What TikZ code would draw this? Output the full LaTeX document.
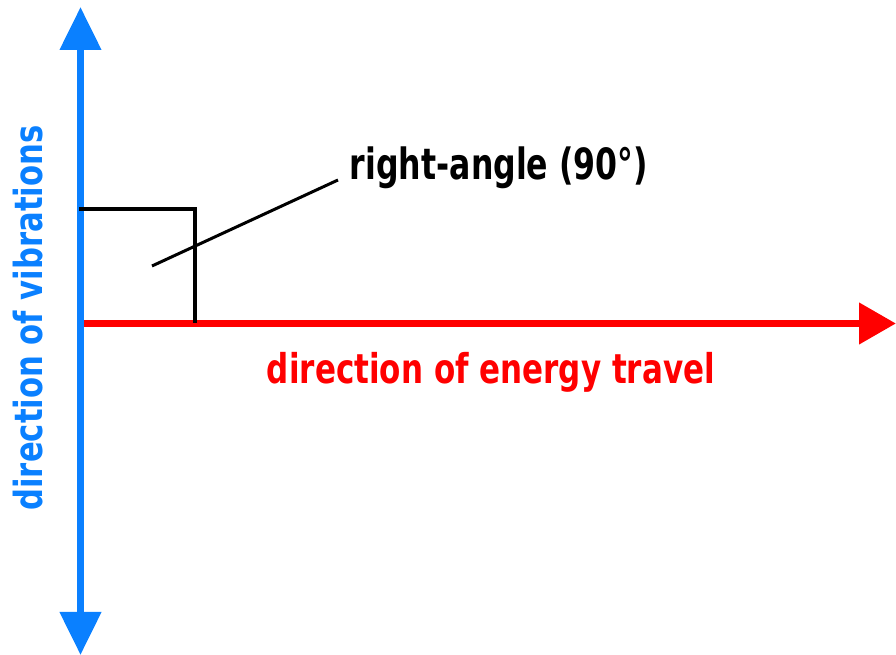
\documentclass[tikz,border=0pt]{standalone}
\usepackage{fontspec}
\setmainfont{DejaVu Sans}
\usetikzlibrary{arrows.meta}
\definecolor{vibblue}{RGB}{10,128,255}
\definecolor{energyred}{RGB}{255,0,0}
\tikzset{
  axisline/.style={line width=7.5pt},
  anglebox/.style={line width=4.5pt, black},
  leader/.style={line width=3pt, black},
  lbl/.style={inner sep=0pt, font=\bfseries},
}
\begin{document}
\begin{tikzpicture}[x=1pt,y=1pt]
\useasboundingbox (0,0) rectangle (896,655);
% coordinates (y measured upward)
\coordinate (vtop) at (80.5,648);
\coordinate (vbot) at (80.5,0);
\coordinate (hstart) at (84,331.5);
\coordinate (hend) at (896,331.5);
\coordinate (sqa) at (79,446);
\coordinate (sqb) at (195,446);
\coordinate (sqc) at (195,332);
\coordinate (lead1) at (152,389);
\coordinate (lead2) at (338,475);
% axes
\draw[axisline, energyred, -{Triangle[length=37pt,width=40pt]}] (hstart) -- (hend);
\draw[axisline, vibblue, {Triangle[length=43pt,width=40pt]}-{Triangle[length=43pt,width=40pt]}] (vbot) -- (vtop);
% right-angle marker
\draw[anglebox] (sqa) -- (sqb) -- (sqc);
\draw[leader] (lead1) -- (lead2);
% labels
\node[lbl, black] (ra) at (499,487) {\resizebox*{298pt}{42pt}{right-angle (90°)}};
\node[lbl, energyred] (en) at (491,283) {\resizebox*{448pt}{40pt}{direction of energy travel}};
\node[lbl, vibblue, rotate=90] (vi) at (28,337) {\resizebox*{385pt}{30pt}{direction of vibrations}};
\end{tikzpicture}
\end{document}
